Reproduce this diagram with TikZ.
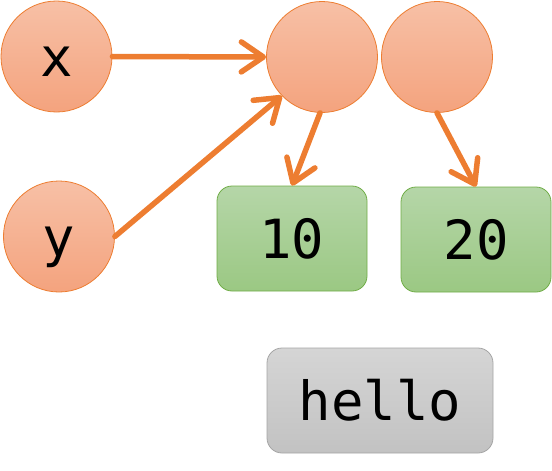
\documentclass[tikz,border=0pt]{standalone}
\usepackage{fontspec}
\setmonofont{DejaVu Sans Mono}
\usetikzlibrary{arrows.meta}
\definecolor{accent}{HTML}{ED7D31}
\definecolor{circtop}{HTML}{F7C0A6}
\definecolor{circbot}{HTML}{F4A37E}
\definecolor{greentop}{HTML}{B5D6A8}
\definecolor{greenbot}{HTML}{9BC883}
\definecolor{greenline}{HTML}{70AD47}
\definecolor{graytop}{HTML}{D5D5D5}
\definecolor{graybot}{HTML}{C2C2C2}
\definecolor{grayline}{HTML}{A5A5A5}
\begin{document}
\begin{tikzpicture}[x=1pt,y=-1pt,
  label text/.style={font=\ttfamily\fontsize{54}{54}\selectfont, text height=40pt, text depth=0pt},
  varname/.style={circle, minimum size=111pt, inner sep=0pt, draw=accent, line width=0.8pt,
    top color=circtop, bottom color=circbot, label text},
  intval/.style={rectangle, rounded corners=15pt, minimum width=150pt, minimum height=105pt,
    inner sep=0pt, draw=greenline, line width=0.8pt, top color=greentop, bottom color=greenbot,
    label text},
  strval/.style={rectangle, rounded corners=15pt, minimum width=226pt, minimum height=105pt,
    inner sep=0pt, draw=grayline, line width=0.8pt, top color=graytop, bottom color=graybot,
    label text},
  ref/.style={draw=accent, line width=5.5pt, line cap=round,
    -{Straight Barb[length=22pt,width=30pt,line cap=round,line join=round]}}]
\useasboundingbox (0,0) rectangle (552,471);
\node[varname] (x) at (56.5,56.5) {x};
\node[varname] (y) at (59,236.5) {y};
\node[varname] (a) at (322,57) {};
\node[varname] (b) at (437,57) {};
\node[intval] (ten) at (292,238.5) {10};
\node[intval] (twenty) at (476,239.5) {20};
\node[strval] (hello) at (380,400.5) {hello};
\draw[ref] (x.east) -- (a.west);
\draw[ref] (y.east) -- (a.{224});
\draw[ref] (a.{-92}) -- (ten.north);
\draw[ref] (b.{-90}) -- (twenty.north);
\end{tikzpicture}
\end{document}
